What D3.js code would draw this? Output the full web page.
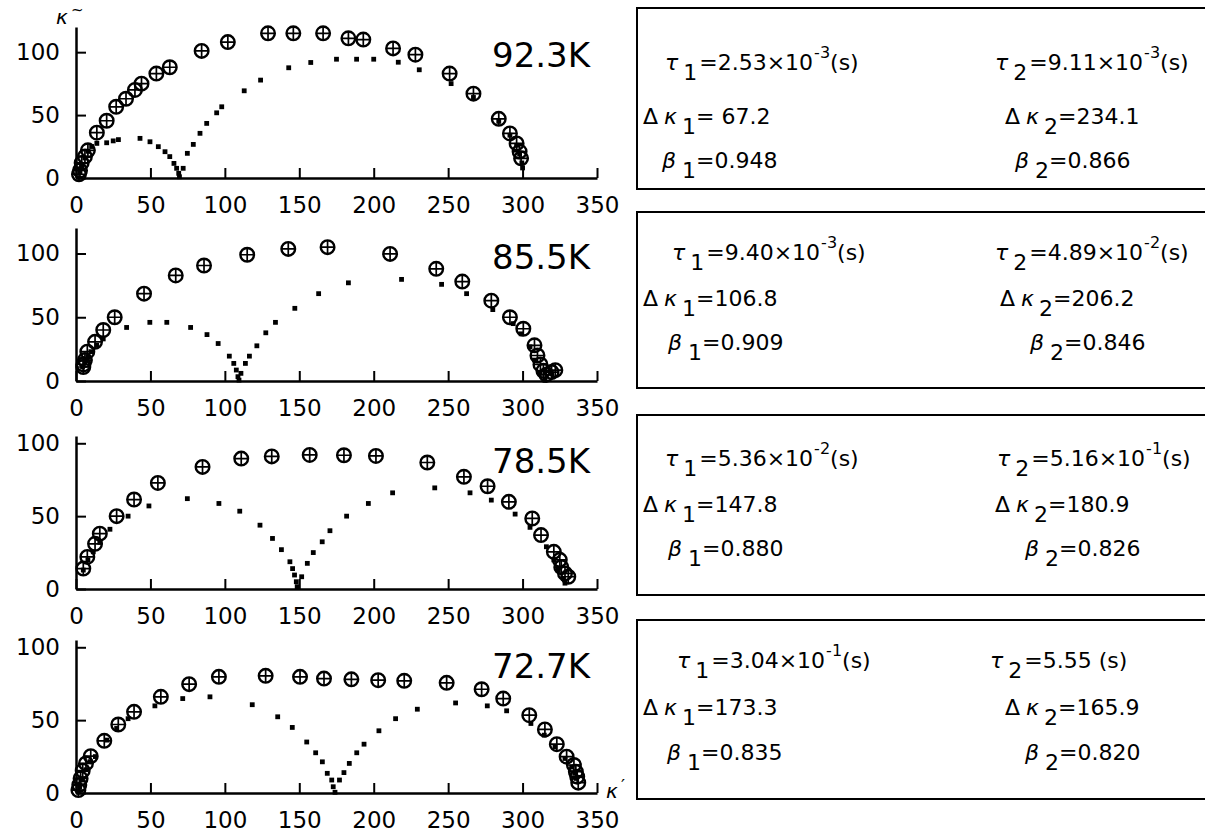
<!DOCTYPE html>
<html>
<head>
<meta charset="utf-8">
<script src="https://cdn.jsdelivr.net/npm/d3@7"></script>
<style>
  body { margin: 0; background: #fff; overflow: hidden; }
  svg { display: block; }
  text { font-family: "DejaVu Sans", sans-serif; fill: #000; }
  .axis text { font-size: 23px; }
  .axis path, .axis line { stroke: #000; }
  .axis path { stroke-width: 2.5; }
  .axis line { stroke-width: 2; }
  .temp { font-size: 34px; }
  .box-text { font-size: 22px; }
  .it { font-style: italic; }
</style>
</head>
<body>
<div id="wrapper"></div>
<script>
// 1. Data
const temps = ['92.3K', '85.5K', '78.5K', '72.7K'];
const xTicks = [0, 50, 100, 150, 200, 250, 300, 350];
const yTicks = [0, 50, 100];
const yMax = [120, 120, 105, 105];

// fitted parameters shown in the boxes
const tau1Mant = ['2.53', '9.40', '5.36', '3.04'];
const tau1Exp = ['-3', '-3', '-2', '-1'];
const tau2Mant = ['9.11', '4.89', '5.16', '5.55'];
const tau2Exp = ['-3', '-2', '-1', null];
const dKappa1 = [' 67.2', '106.8', '147.8', '173.3'];
const dKappa2 = ['234.1', '206.2', '180.9', '165.9'];
const beta1 = ['0.948', '0.909', '0.880', '0.835'];
const beta2 = ['0.866', '0.846', '0.826', '0.820'];

// measured points (circle with plus) [kappa', kappa'']
const meas923 = [[2,3],[2.7,6],[3.8,12],[6,17],[8,22],[14,36],[20.6,45.5],[27,56.6],[33.6,63],[39.6,70],[44,75],
  [54,83],[63,88],[84.4,101],[102,108],[129,115],[146,115],[166,115],[183,111],[193,110],[213,103],[228,98],
  [251,83],[267,67],[284,47],[291.5,35.4],[296,27.5],[298,21],[299,15.6]];
const meas855 = [[4.9,11],[5,13],[6,16.4],[7.6,23],[12.8,30.7],[18.3,40],[26,50],[45.7,68.5],[67,82.8],[86,90.6],
  [115,99],[142.6,103.6],[169,105],[211,99.7],[242,88],[259.5,78],[279,63],[291.5,50],[300.5,41],[308,28],
  [310,20],[312,13],[314,8],[316,5],[319.5,7],[322,8.5]];
const meas785 = [[4.9,14],[7.6,22],[12.8,31],[16,38],[27.3,50],[39,61.4],[55,72.8],[85,83.8],[111,89.5],
  [131.5,91],[157,92],[180,91.8],[201.5,91.3],[236,86.8],[260.6,77],[276.5,70.5],[290.8,59.8],[306.5,48.4],
  [312.4,37],[321,25.5],[325,20],[326,15],[328.5,10.7],[330.7,8.4]];
const meas727 = [[1.6,2],[2.2,5.5],[3.1,10],[4.5,15.3],[6.7,20.3],[9.9,25.3],[19,35.8],[28.4,47],[39,55.7],
  [57,66],[76,74.7],[96,79.7],[127.4,80.4],[150.5,79.7],[166.6,78.5],[185,78],[203,77.4],[220.5,77],
  [249,75.6],[272.5,71.2],[287,64.8],[304.5,53.4],[315,43.6],[323,33.5],[329.6,24.9],[334.5,19.2],
  [335.8,14.6],[336.7,11.2],[337.4,7.1]];

// separated components (small dots) [kappa', kappa'']
const comp923 = [[2.7,5],[3.8,9],[5.9,15.9],[8.1,21.2],[10.5,25],[14,27.5],[20.6,28],[25,29.5],[28.5,30.5],
  [43,31.5],[49.7,28.8],[55.3,24.9],[59.8,20.9],[63,17],[65.8,11.6],[67.6,7.7],[69,3.7],[69.5,1],[72,7.7],
  [74.8,19.6],[78.8,26.7],[83.3,35.5],[87.8,43.4],[94.5,51.8],[97.9,56.6],[113,69.3],[124,77.8],[142.9,87.6],
  [157.7,91.8],[175,94.4],[188.5,94.4],[200,94.4],[216.5,92],[230.6,86],[252,75],[267,64],[284,45],
  [291.5,34],[296,26],[298,19],[299.5,12],[300,8]];
const comp855 = [[4.4,11],[6,15],[8,19],[10,23],[13.9,28],[18.3,33],[34,42],[49.6,46],[61,46],[77,42],
  [88,36.4],[95.5,29.4],[103,19.5],[106,13.8],[107.7,8.6],[108.8,3.4],[109.5,0.7],[110.8,6],[113.8,13.8],
  [116.5,19.5],[121.5,27.6],[127.5,37.8],[134,46],[147,57],[163,68.5],[183,77],[218.7,79.7],[245.6,75.8],
  [262.4,68.5],[280,56],[293.7,45],[299,37],[305,26.8],[308,16.4],[311.7,6],[315,0.5]];
const comp785 = [[4.9,13],[8,20],[11.6,25.5],[16,32],[22.8,41],[35,50],[49,57],[74.8,62],[96,58.7],[110,53.4],
  [123.6,43.8],[132,34.7],[138,27],[143.7,18.7],[145.5,14],[146.8,9.6],[148,5],[148.6,1.6],[151.6,8.4],
  [155.4,17.6],[159.4,25],[165.4,32.4],[170.6,40],[181.8,50],[196.4,58.7],[212.7,66],[241,69.4],[264.7,66],
  [279,61],[295,51.4],[305,42.3],[316,29],[321,20],[324,13],[327.3,7.3],[328.5,4]];
const comp727 = [[1.5,1],[2.5,4],[3.8,8.9],[6.7,16],[9.4,21.5],[13,25],[20.6,36.3],[27.3,44.3],[35,51],
  [53,59.8],[71.7,64.8],[90,66],[118.4,60.6],[135.5,52.3],[145.3,45],[155,35],[161,27.6],[165.5,21.4],
  [168.8,13.5],[171.8,8.9],[172.8,4.3],[174,0.5],[177,8.9],[180,14],[183.6,20.3],[188.6,27.6],[193.5,33.5],
  [203.5,42.7],[214.7,51],[229.3,57.5],[255,61.8],[276.3,59.8],[289.3,56.4],[305.6,47.7],[314.6,39.7],
  [321.8,31.7],[328.5,23.7],[333,17.8],[335,13.5],[336,10]];

const measured = [meas923, meas855, meas785, meas727];
const components = [comp923, comp855, comp785, comp727];

// 2. Dimensions
const dimensions = {
  width: 1205,
  height: 833,
  xLeft: 76,
  xRight: 597,
  // y pixel of kappa''=0 and of the axis top for each panel
  yBottom: [178, 381, 589, 793],
  yTop: [27, 228, 436, 640],
  tempX: 492,
  tempY: [67, 269, 473, 678],
  box: { left: 637, top: [8, 212, 415, 620], bottom: [189, 388, 595, 799] },
  rows: [[70, 124, 168], [260, 306, 350], [466, 512, 556], [668, 715, 760]],
  colTau: [[665, 995], [672, 995], [665, 997], [677, 990]],
  colDk: [[643, 1005], [643, 1000], [643, 995], [643, 1005]],
  colBeta: [[662, 1015], [668, 1030], [668, 1025], [667, 1025]],
};

// 3. Draw canvas
const wrapper = d3.select('#wrapper')
  .append('svg')
  .attr('width', dimensions.width)
  .attr('height', dimensions.height);

const xScale = d3.scaleLinear()
  .domain([0, 350])
  .range([dimensions.xLeft, dimensions.xRight]);

// rich text: parts with optional italic / subscript / superscript
function richText(g, x, y, parts) {
  const text = g.append('text')
    .attr('class', 'box-text')
    .attr('x', x)
    .attr('y', y);
  let shift = 0;
  parts.forEach(p => {
    const target = p.sub ? 10 : p.sup ? -12 : 0;
    const span = text.append('tspan')
      .attr('dy', target - shift)
      .text(p.t);
    if (p.dx) span.attr('dx', p.dx);
    if (p.it) span.attr('class', 'it');
    if (p.sup) span.style('font-size', '16px');
    shift = target;
  });
  return text;
}

function tauParts(idx, mant, exp) {
  const parts = [
    { t: 'τ', it: true },
    { t: idx, sub: true, dx: 5 },
  ];
  if (exp) {
    parts.push({ t: '=' + mant + '×10', dx: 2 });
    parts.push({ t: exp, sup: true, dx: 1 });
    parts.push({ t: '(s)' });
  } else {
    parts.push({ t: '=' + mant + ' (s)', dx: 2 });
  }
  return parts;
}

// 4. Panels
temps.forEach((temp, i) => {
  const yScale = d3.scaleLinear()
    .domain([0, yMax[i]])
    .range([dimensions.yBottom[i], dimensions.yTop[i]]);

  const panel = wrapper.append('g').attr('class', 'panel');

  // components (dots)
  panel.selectAll('rect.comp')
    .data(components[i])
    .enter()
    .append('rect')
    .attr('class', 'comp')
    .attr('x', d => xScale(d[0]) - 2.4)
    .attr('y', d => yScale(d[1]) - 2.4)
    .attr('width', 4.8)
    .attr('height', 4.8)
    .attr('fill', '#000');

  // measured (circle with plus)
  const marks = panel.selectAll('g.meas')
    .data(measured[i])
    .enter()
    .append('g')
    .attr('class', 'meas')
    .attr('transform', d => `translate(${xScale(d[0])},${yScale(d[1])})`);
  marks.append('circle')
    .attr('r', 6.8)
    .attr('fill', 'none')
    .attr('stroke', '#000')
    .attr('stroke-width', 2.4);
  marks.append('path')
    .attr('d', 'M-6.8,0H6.8M0,-6.8V6.8')
    .attr('stroke', '#000')
    .attr('stroke-width', 1.7);

  // axes
  const xAxisGenerator = d3.axisBottom(xScale)
    .tickValues(xTicks)
    .tickSizeInner(-10)
    .tickSizeOuter(0)
    .tickPadding(19);
  panel.append('g')
    .attr('class', 'axis')
    .attr('transform', `translate(0,${dimensions.yBottom[i]})`)
    .call(xAxisGenerator);

  const yAxisGenerator = d3.axisLeft(yScale)
    .tickValues(yTicks)
    .tickSizeInner(-10)
    .tickSizeOuter(0)
    .tickPadding(16);
  panel.append('g')
    .attr('class', 'axis')
    .attr('transform', `translate(${dimensions.xLeft},0)`)
    .call(yAxisGenerator);

  panel.selectAll('.axis').attr('font-family', null).attr('font-size', null);

  // temperature label
  panel.append('text')
    .attr('class', 'temp')
    .attr('x', dimensions.tempX)
    .attr('y', dimensions.tempY[i])
    .text(temp);

  // parameter box: top, left and bottom sides only, it runs off the page
  const box = wrapper.append('g').attr('class', 'box');
  const top = dimensions.box.top[i];
  const bottom = dimensions.box.bottom[i];
  box.append('path')
    .attr('d', `M1230,${top}H${dimensions.box.left}V${bottom}H1230`)
    .attr('fill', 'none')
    .attr('stroke', '#000')
    .attr('stroke-width', 2);

  const rows = dimensions.rows[i];
  richText(box, dimensions.colTau[i][0], rows[0], tauParts('1', tau1Mant[i], tau1Exp[i]));
  richText(box, dimensions.colTau[i][1], rows[0], tauParts('2', tau2Mant[i], tau2Exp[i]));
  richText(box, dimensions.colDk[i][0], rows[1], [
    { t: 'Δ' }, { t: 'κ', it: true, dx: 6 }, { t: '1', sub: true, dx: 5 }, { t: '=' + dKappa1[i] }]);
  richText(box, dimensions.colDk[i][1], rows[1], [
    { t: 'Δ' }, { t: 'κ', it: true, dx: 6 }, { t: '2', sub: true, dx: 5 }, { t: '=' + dKappa2[i] }]);
  richText(box, dimensions.colBeta[i][0], rows[2], [
    { t: 'β', it: true }, { t: '1', sub: true, dx: 6 }, { t: '=' + beta1[i] }]);
  richText(box, dimensions.colBeta[i][1], rows[2], [
    { t: 'β', it: true }, { t: '2', sub: true, dx: 6 }, { t: '=' + beta2[i] }]);
});

// 5. Axis names
wrapper.append('text')
  .attr('class', 'it')
  .attr('x', 56).attr('y', 24)
  .style('font-size', '20px')
  .text('κ');
wrapper.append('text')
  .attr('x', 71).attr('y', 15)
  .style('font-size', '15px')
  .text('~');
wrapper.append('text')
  .attr('class', 'it')
  .attr('x', 606).attr('y', 798)
  .style('font-size', '20px')
  .text('κ');
wrapper.append('text')
  .attr('x', 621).attr('y', 792)
  .style('font-size', '18px')
  .text('′');
</script>
</body>
</html>
